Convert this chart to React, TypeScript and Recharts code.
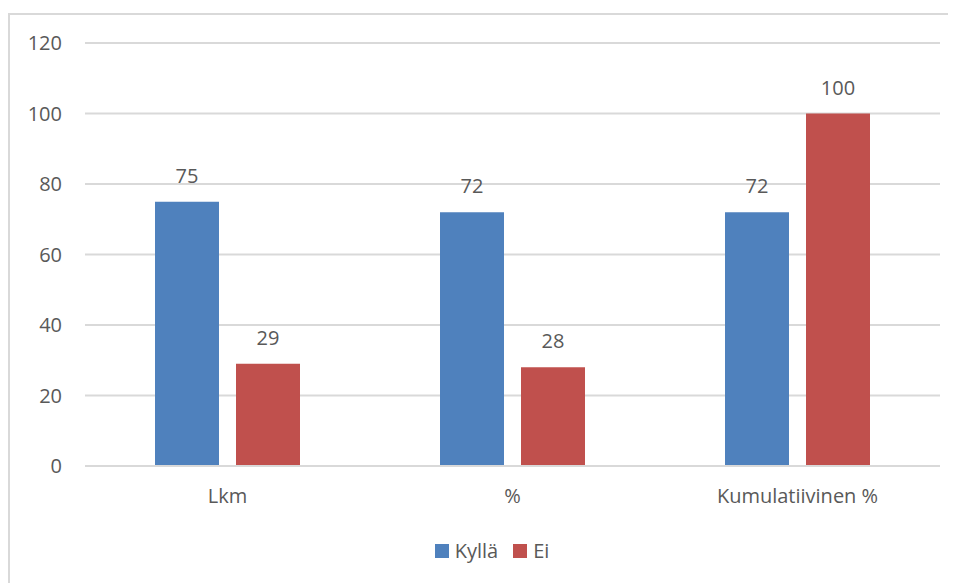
import React from 'react';
import { BarChart, Bar, XAxis, YAxis, CartesianGrid, Legend, LabelList } from 'recharts';

const categories = ['Lkm', '%', 'Kumulatiivinen %'];
const kyllaValues = [75, 72, 72];
const eiValues = [29, 28, 100];
const yTicks = [0, 20, 40, 60, 80, 100, 120];
const seriesNames = ['Kyllä', 'Ei'];
const colors = ['#4f81bd', '#c0504d'];

const data = categories.map((c, i) => ({ name: c, kylla: kyllaValues[i], ei: eiValues[i] }));

const FONT = '"Open Sans", sans-serif';
const TEXT = '#595959';

const LegendContent = () => (
  <div style={{ display: 'flex', justifyContent: 'center', alignItems: 'center', fontFamily: FONT, fontSize: 20, color: TEXT }}>
    {seriesNames.map((n, i) => (
      <div key={n} style={{ display: 'flex', alignItems: 'center', marginRight: i === 0 ? 15 : 0 }}>
        <div style={{ width: 14, height: 14, background: colors[i], marginRight: 6 }} />
        <span>{n}</span>
      </div>
    ))}
  </div>
);

export default function App() {
  return (
    <div style={{ width: 948, height: 568, border: '2px solid #d9d9d9', marginTop: 5, background: '#fff' }}>
      <BarChart
        width={948}
        height={568}
        data={data}
        margin={{ top: 28, right: 18, left: 0, bottom: 60 }}
        barSize={64}
        barGap={17}
      >
        <CartesianGrid vertical={false} stroke="#d9d9d9" strokeWidth={2} />
        <XAxis
          dataKey="name"
          axisLine={{ stroke: '#d9d9d9', strokeWidth: 2 }}
          tickLine={false}
          tickSize={0}
          tickMargin={23}
          tick={{ fill: TEXT, fontFamily: FONT, fontSize: 20 }}
        />
        <YAxis
          width={75}
          domain={[0, 120]}
          ticks={yTicks}
          axisLine={false}
          tickLine={false}
          tickSize={0}
          tickMargin={23}
          tick={{ fill: TEXT, fontFamily: FONT, fontSize: 20 }}
        />
        <Legend
          content={<LegendContent />}
          wrapperStyle={{ left: 8, width: 948, top: 522, bottom: 'auto' }}
        />
        <Bar dataKey="kylla" name={seriesNames[0]} fill={colors[0]} isAnimationActive={false}>
          <LabelList dataKey="kylla" position="top" offset={19} fill={TEXT} fontFamily={FONT} fontSize={20} />
        </Bar>
        <Bar dataKey="ei" name={seriesNames[1]} fill={colors[1]} isAnimationActive={false}>
          <LabelList dataKey="ei" position="top" offset={19} fill={TEXT} fontFamily={FONT} fontSize={20} />
        </Bar>
      </BarChart>
    </div>
  );
}
